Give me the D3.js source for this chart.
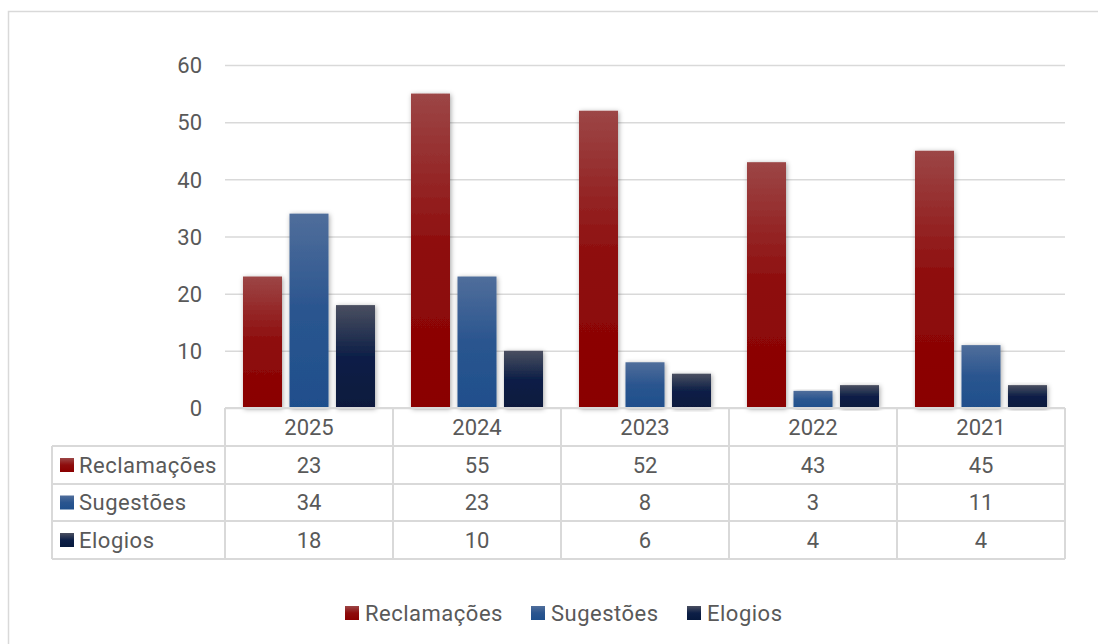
<!DOCTYPE html>
<html>
<head>
<meta charset="utf-8">
<script src="https://cdn.jsdelivr.net/npm/d3@7"></script>
<style>
  html, body { margin: 0; padding: 0; background: #ffffff; }
  svg { display: block; font-family: Roboto, "Noto Sans", sans-serif; }
</style>
</head>
<body>
<svg id="chart" width="1098" height="644"></svg>
<script>
// Categories (years) and series values
const years = ["2025", "2024", "2023", "2022", "2021"];
const seriesNames = ["Reclamações", "Sugestões", "Elogios"];
const reclamacoes = [23, 55, 52, 43, 45];
const sugestoes = [34, 23, 8, 3, 11];
const elogios = [18, 10, 6, 4, 4];
const yTicks = [0, 10, 20, 30, 40, 50, 60];

const seriesValues = [reclamacoes, sugestoes, elogios];
const gradients = [
  { id: "g-recl", top: "#9c4646", mid: "#8e0c0c", bottom: "#8a0000" },
  { id: "g-sug", top: "#506e9b", mid: "#2a558f", bottom: "#1f4f8c" },
  { id: "g-elo", top: "#4a4f60", mid: "#0d1f47", bottom: "#07193d" }
];

const svg = d3.select("#chart");
const textColor = "#595959";
const lineColor = "#d9d9d9";
const fontSize = 22;
const nameSpacing = "0.5px";

// Outer frame (extends past the right and bottom edges)
svg.append("rect")
  .attr("x", 8.5).attr("y", 11.5)
  .attr("width", 1200).attr("height", 800)
  .attr("fill", "none").attr("stroke", lineColor).attr("stroke-width", 1.5);

const defs = svg.append("defs");
gradients.forEach(g => {
  const lg = defs.append("linearGradient").attr("id", g.id)
    .attr("x1", 0).attr("y1", 0).attr("x2", 0).attr("y2", 1);
  lg.append("stop").attr("offset", "0%").attr("stop-color", g.top);
  lg.append("stop").attr("offset", "50%").attr("stop-color", g.mid);
  lg.append("stop").attr("offset", "100%").attr("stop-color", g.bottom);
});
const shadow = defs.append("filter").attr("id", "shadow")
  .attr("x", "-30%").attr("y", "-10%").attr("width", "160%").attr("height", "120%");
shadow.append("feDropShadow")
  .attr("dx", 1).attr("dy", 1).attr("stdDeviation", 2.5)
  .attr("flood-color", "#000").attr("flood-opacity", 0.35);

// Plot area
const plot = { left: 225, right: 1065, top: 65, bottom: 408 };

const x = d3.scaleBand().domain(years).range([plot.left, plot.right]).paddingInner(0).paddingOuter(0);
const xs = d3.scaleBand().domain(seriesNames).range([0, x.bandwidth()])
  .paddingInner(0.161).paddingOuter(0.387);
const y = d3.scaleLinear().domain([0, 60]).range([plot.bottom, plot.top]);

// Gridlines and y labels
const yAxis = d3.axisLeft(y).tickValues(yTicks)
  .tickSize(-(plot.right - plot.left)).tickPadding(23);
const gy = svg.append("g").attr("transform", `translate(${plot.left},0)`).call(yAxis);
gy.select(".domain").remove();
gy.selectAll(".tick line").attr("stroke", lineColor).attr("stroke-width", 1.5);
gy.selectAll(".tick text")
  .attr("fill", textColor).attr("font-size", fontSize)
  .attr("font-family", "Roboto, sans-serif").attr("dy", "0.35em");

// Bars
seriesNames.forEach((name, si) => {
  svg.append("g").selectAll("rect")
    .data(years.map((yr, i) => ({ yr, v: seriesValues[si][i] })))
    .join("rect")
    .attr("x", d => x(d.yr) + xs(name))
    .attr("y", d => y(d.v))
    .attr("width", xs.bandwidth())
    .attr("height", d => y(0) - y(d.v))
    .attr("fill", `url(#${gradients[si].id})`)
    .attr("filter", "url(#shadow)");
});

// Data table under the plot
const tableLeft = 52;
const rowEdges = [408, 446, 484, 521, 559];
const tbl = svg.append("g");
const line = (x1, y1, x2, y2) => tbl.append("line")
  .attr("x1", x1).attr("y1", y1).attr("x2", x2).attr("y2", y2)
  .attr("stroke", lineColor).attr("stroke-width", 2);

line(plot.left, rowEdges[0], plot.right, rowEdges[0]);
for (let r = 1; r < rowEdges.length; r++) line(tableLeft, rowEdges[r], plot.right, rowEdges[r]);
line(tableLeft, rowEdges[1], tableLeft, rowEdges[4]);
years.forEach(yr => line(x(yr), rowEdges[0], x(yr), rowEdges[4]));
line(plot.right, rowEdges[0], plot.right, rowEdges[4]);

// Year headers
tbl.selectAll("text.year").data(years).join("text")
  .attr("class", "year")
  .attr("x", d => x(d) + x.bandwidth() / 2)
  .attr("y", (rowEdges[0] + rowEdges[1]) / 2)
  .attr("dy", "0.35em").attr("text-anchor", "middle")
  .attr("fill", textColor).attr("font-size", fontSize)
  .text(d => d);

// Series rows
seriesNames.forEach((name, si) => {
  const cy = (rowEdges[si + 1] + rowEdges[si + 2]) / 2;
  tbl.append("rect")
    .attr("x", 60).attr("y", cy - 7).attr("width", 14).attr("height", 14)
    .attr("fill", `url(#${gradients[si].id})`);
  tbl.append("text")
    .attr("x", 79).attr("y", cy).attr("dy", "0.35em")
    .attr("fill", textColor).attr("font-size", fontSize)
    .attr("letter-spacing", nameSpacing)
    .text(name);
  tbl.append("g").selectAll("text")
    .data(years.map((yr, i) => ({ yr, v: seriesValues[si][i] })))
    .join("text")
    .attr("x", d => x(d.yr) + x.bandwidth() / 2)
    .attr("y", cy).attr("dy", "0.35em").attr("text-anchor", "middle")
    .attr("fill", textColor).attr("font-size", fontSize)
    .text(d => d.v);
});

// Legend
const legendX = [345, 531, 687];
const legendY = 613;
const legend = svg.append("g");
seriesNames.forEach((name, si) => {
  legend.append("rect")
    .attr("x", legendX[si]).attr("y", legendY - 7).attr("width", 14).attr("height", 14)
    .attr("fill", `url(#${gradients[si].id})`);
  legend.append("text")
    .attr("x", legendX[si] + 20).attr("y", legendY).attr("dy", "0.35em")
    .attr("fill", textColor).attr("font-size", fontSize)
    .attr("letter-spacing", nameSpacing)
    .text(name);
});
</script>
</body>
</html>
